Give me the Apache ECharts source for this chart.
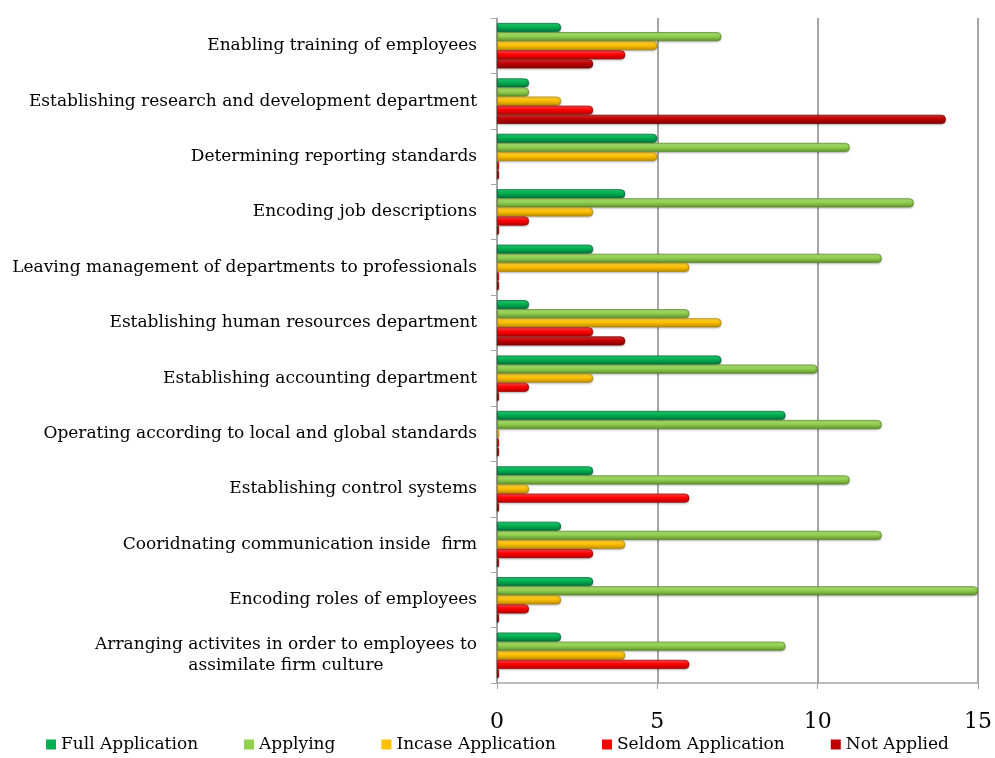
<!DOCTYPE html>
<html>
<head>
<meta charset="utf-8">
<script src="https://cdn.jsdelivr.net/npm/echarts@6/dist/echarts.min.js"></script>
<style>
  html, body { margin: 0; padding: 0; background: #ffffff; }
  #chart { width: 995px; height: 758px; }
</style>
</head>
<body>
<div id="chart"></div>
<script>
// Measures, listed top to bottom
const categories = [
  'Enabling training of employees',
  'Establishing research and development department',
  'Determining reporting standards',
  'Encoding job descriptions',
  'Leaving management of departments to professionals',
  'Establishing human resources department',
  'Establishing accounting department',
  'Operating according to local and global standards',
  'Establishing control systems',
  'Cooridnating communication inside  firm',
  'Encoding roles of employees',
  'Arranging activites in order to employees to\nassimilate firm culture'
];

const seriesNames = ['Full Application', 'Applying', 'Incase Application', 'Seldom Application', 'Not Applied'];

const fullApplication   = [2, 1, 5, 4, 3, 1, 7, 9, 3, 2, 3, 2];
const applying          = [7, 1, 11, 13, 12, 6, 10, 12, 11, 12, 15, 9];
const incaseApplication = [5, 2, 5, 3, 6, 7, 3, 0, 1, 4, 2, 4];
const seldomApplication = [4, 3, 0, 1, 0, 3, 1, 0, 6, 3, 1, 6];
const notApplied        = [3, 14, 0, 0, 0, 4, 0, 0, 0, 0, 0, 0];

const xTicks = [0, 5, 10, 15];

const values = [fullApplication, applying, incaseApplication, seldomApplication, notApplied];
const baseColors = ['#00B050', '#92D050', '#FFC000', '#FF0000', '#C00000'];
const lightColors = ['#2fd678', '#b6ea7e', '#ffdd55', '#ff5a5a', '#e03a3a'];
const darkColors = ['#00703a', '#5f8f2c', '#b88a00', '#b00000', '#800000'];

const serif = 'DejaVu Serif';
const labelSize = 17;

// Two-line labels get their lines centred on each other while the block stays right-aligned
function measure(text) {
  const ctx = document.createElement('canvas').getContext('2d');
  ctx.font = labelSize + 'px "' + serif + '"';
  return Math.max.apply(null, text.split('\n').map(s => ctx.measureText(s).width));
}
const yData = categories.map(c => {
  if (c.indexOf('\n') < 0) return c;
  const w = Math.ceil(measure(c));
  return { value: c, textStyle: { align: 'center', padding: [0, w, 0, 0] } };
});

function tube(i) {
  return new echarts.graphic.LinearGradient(0, 0, 0, 1, [
    { offset: 0, color: lightColors[i] },
    { offset: 0.45, color: baseColors[i] },
    { offset: 1, color: darkColors[i] }
  ]);
}

const chart = echarts.init(document.getElementById('chart'), null, { renderer: 'canvas' });

chart.setOption({
  animation: false,
  backgroundColor: '#ffffff',
  grid: { left: 497, right: 11, top: 18, bottom: 75, containLabel: false },
  legend: {
    bottom: 0,
    left: 'center',
    itemWidth: 10,
    itemHeight: 10,
    itemGap: 46,
    icon: 'rect',
    textStyle: { fontFamily: serif, fontSize: 17, color: '#000' },
    data: seriesNames.map((n, i) => ({
      name: n,
      itemStyle: { color: baseColors[i], borderWidth: 0, shadowBlur: 0, shadowOffsetY: 0 }
    }))
  },
  xAxis: {
    type: 'value',
    min: 0,
    max: 15,
    interval: 5,
    axisLine: { show: true, lineStyle: { color: '#a6a6a6', width: 1.5 } },
    axisTick: { show: true, length: 6, lineStyle: { color: '#a6a6a6' } },
    splitLine: { show: true, lineStyle: { color: '#a6a6a6', width: 2 } },
    axisLabel: {
      fontFamily: serif,
      fontSize: 22,
      color: '#000',
      margin: 28,
      formatter: v => (xTicks.indexOf(v) >= 0 ? String(v) : '')
    }
  },
  yAxis: {
    type: 'category',
    inverse: true,
    data: yData,
    axisLine: { show: true, lineStyle: { color: '#a6a6a6', width: 1.5 } },
    axisTick: { show: true, length: 6, lineStyle: { color: '#a6a6a6' } },
    axisLabel: {
      fontFamily: serif,
      fontSize: labelSize,
      color: '#000',
      margin: 20,
      align: 'right',
      lineHeight: 21
    }
  },
  series: seriesNames.map((name, i) => ({
    name: name,
    type: 'bar',
    data: values[i],
    barCategoryGap: '18%',
    barGap: '0%',
    barMinHeight: 2,
    itemStyle: {
      color: tube(i),
      borderColor: darkColors[i],
      borderWidth: 0.8,
      borderRadius: [0, 4, 4, 0],
      shadowColor: 'rgba(0,0,0,0.25)',
      shadowBlur: 2,
      shadowOffsetY: 1
    }
  }))
});
</script>
</body>
</html>
